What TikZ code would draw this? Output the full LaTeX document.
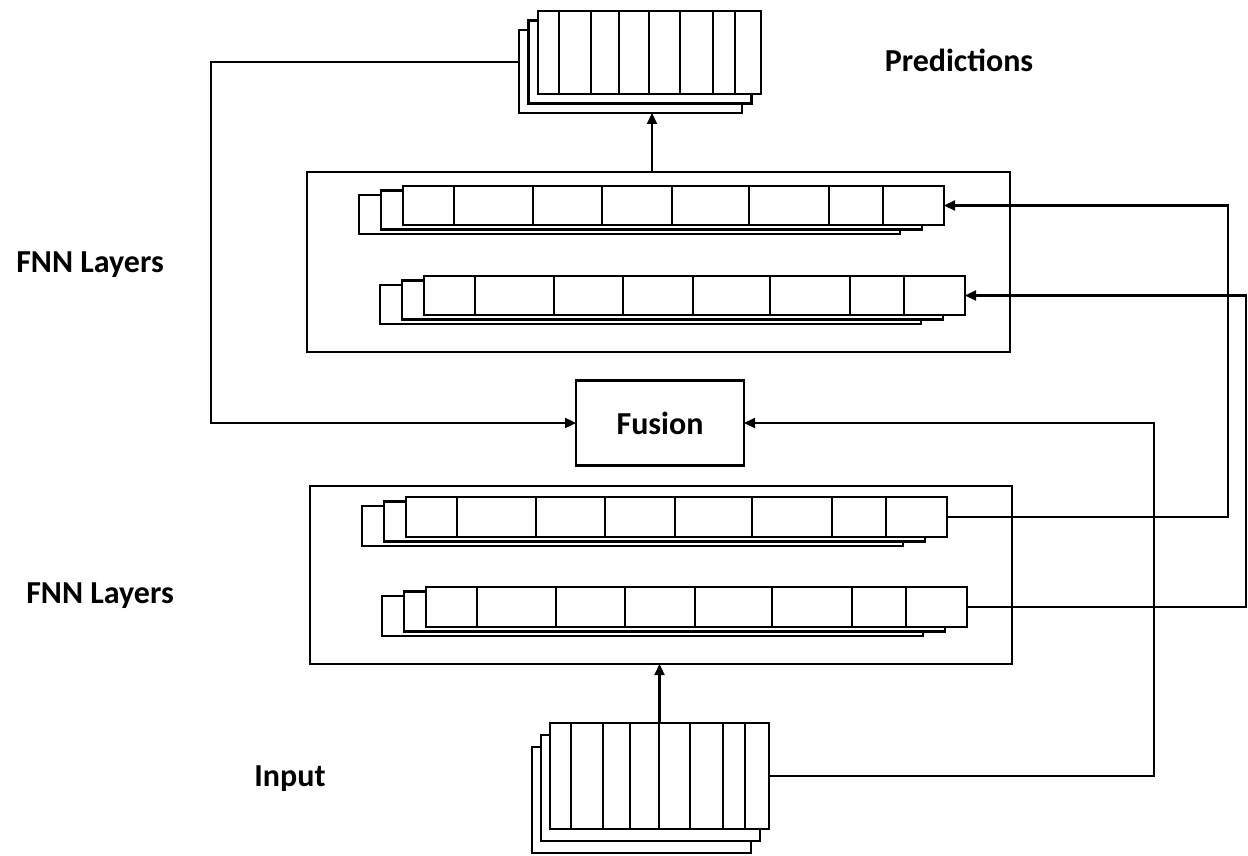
\documentclass[tikz,border=0pt]{standalone}
\usepackage{fontspec}
\setmainfont{Carlito}
\usetikzlibrary{arrows.meta,calc}

\tikzset{
  cell/.style={draw, line width=2.3pt, fill=white, inner sep=0pt, outer sep=0pt, anchor=north west},
  frame/.style={draw, line width=2.3pt, inner sep=0pt, outer sep=0pt},
  link/.style={line width=2.3pt},
  arr/.style={link, -{Triangle[length=11pt,width=10pt]}},
  lbl/.style={font=\fontsize{32}{38}\selectfont\bfseries, inner sep=0pt, anchor=base},
}

% A stack of three sheets, each one cut into cells.
% #1 name of the front sheet, (#2,#3) its top-left corner, #4 x #5 its size,
% (#6,#7) shift of each sheet behind it, #8 cell dividers measured from its left edge
\newcommand\cellstack[8]{%
  \node[cell, minimum width=#4pt, minimum height=#5pt] (#1back) at ({#2+2*(#6)}, {#3+2*(#7)}) {};
  \node[cell, minimum width=#4pt, minimum height=#5pt] (#1mid)  at ({#2+(#6)}, {#3+(#7)}) {};
  \node[cell, minimum width=#4pt, minimum height=#5pt] (#1)     at (#2, #3) {};
  \foreach \d in {#8}
    \draw[link] ($(#1.north west)+(\d,0)$) -- ($(#1.south west)+(\d,0)$);
}

\begin{document}
\begin{tikzpicture}[x=1pt, y=-1pt]
\useasboundingbox (0,0) rectangle (1248,856);

% layer frames and fusion block
\node[frame, anchor=north west, minimum width=703pt, minimum height=180pt] (fnntop) at (307,172) {};
\node[frame, anchor=north west, minimum width=702pt, minimum height=178pt] (fnnbot) at (310,486) {};
\node[frame, minimum width=168pt, minimum height=85pt, font=\fontsize{32}{38}\selectfont\bfseries] (fusion) at (660,423) {Fusion};

% predictions and input stacks
\cellstack{pred}{538}{11}{223}{83}{-9.5}{9.5}{21,53,81,111,142,175,197}
\cellstack{inp}{550}{723}{219}{106}{-9}{12}{21,53,80,109,140,173,195}

% FNN rows
\cellstack{tr1}{403}{186}{541}{39}{-22}{4.5}{51,130,199,269,346,426,480}
\cellstack{tr2}{424}{276}{541}{39}{-22}{4.5}{51,130,199,269,346,426,480}
\cellstack{br1}{406}{497}{541}{40}{-22}{4.5}{51,130,199,269,346,426,480}
\cellstack{br2}{426}{587}{541}{40}{-22}{4.5}{51,130,199,269,346,426,480}

% labels
\node[lbl] (predlbl) at (959,72) {Predictions};
\node[lbl] (fnnlbl1) at (90,272) {FNN Layers};
\node[lbl] (fnnlbl2) at (100,603) {FNN Layers};
\node[lbl] (inlbl) at (290,786) {Input};

% connectors
\coordinate (lbend) at (211,62);
\coordinate (rbend) at (1154,0);
\coordinate (r1bend) at (1228,0);
\coordinate (r2bend) at (1246,0);
\coordinate (upx) at (652,0);

\draw[arr] (fnntop.north -| upx) -- (upx |- predback.south);
\draw[arr] (inp.north) -- (inp.north |- fnnbot.south);
\draw[arr] (predback.west |- lbend) -- (lbend) -- (lbend |- fusion.west) -- (fusion.west);
\draw[arr] (inp.east) -- (inp.east -| rbend) -- (rbend |- fusion.east) -- (fusion.east);
\draw[arr] (br1.east) -- (br1.east -| r1bend) -- (r1bend |- tr1.east) -- (tr1.east);
\draw[arr] (br2.east) -- (br2.east -| r2bend) -- (r2bend |- tr2.east) -- (tr2.east);
\end{tikzpicture}
\end{document}
